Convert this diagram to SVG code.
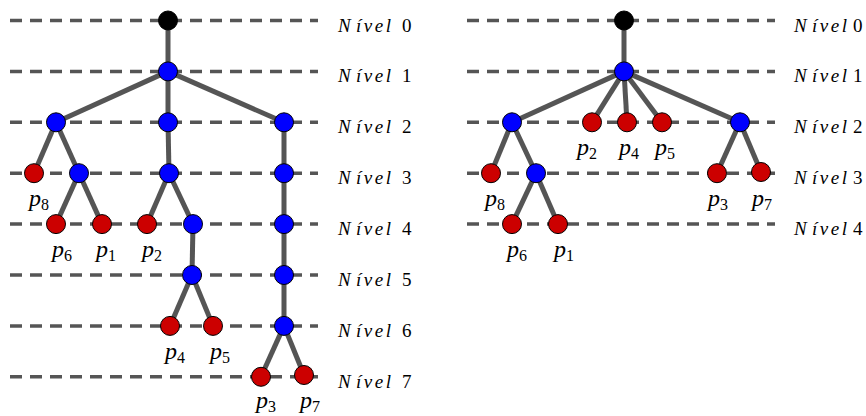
<svg xmlns="http://www.w3.org/2000/svg" width="866" height="416" viewBox="0 0 866 416">
<style>
.guide{stroke:#555;stroke-width:3.5;stroke-dasharray:12 8;fill:none}
.edge{stroke:#555;stroke-width:5;fill:none}
.root{fill:#000;stroke:#000;stroke-width:1}
.inner{fill:#0000ff;stroke:#000;stroke-width:1}
.leaf{fill:#cc0000;stroke:#000;stroke-width:1}
text{font-family:"Liberation Serif",serif}
.lvl{font-size:19px;fill:#000}
.it{font-style:italic}
.pl{font-size:24px;font-style:italic;fill:#000;text-anchor:middle}
.sub{font-size:16px;font-style:normal}
</style>
<rect width="866" height="416" fill="#fff"/>
<g id="guides">
<line class="guide" x1="10" y1="20.5" x2="318" y2="20.5"/>
<line class="guide" x1="10" y1="71.4" x2="318" y2="71.4"/>
<line class="guide" x1="10" y1="122.3" x2="318" y2="122.3"/>
<line class="guide" x1="10" y1="173.2" x2="318" y2="173.2"/>
<line class="guide" x1="10" y1="224.1" x2="318" y2="224.1"/>
<line class="guide" x1="10" y1="275" x2="318" y2="275"/>
<line class="guide" x1="10" y1="325.9" x2="318" y2="325.9"/>
<line class="guide" x1="10" y1="376.8" x2="318" y2="376.8"/>
<line class="guide" x1="467" y1="20.5" x2="775" y2="20.5"/>
<line class="guide" x1="467" y1="71.4" x2="775" y2="71.4"/>
<line class="guide" x1="467" y1="122.3" x2="775" y2="122.3"/>
<line class="guide" x1="467" y1="173.2" x2="775" y2="173.2"/>
<line class="guide" x1="467" y1="224.1" x2="775" y2="224.1"/>
</g>
<g id="level-labels" class="lvl" font-family="Liberation Serif, serif">
<text y="31.5"><tspan class="it" x="338">N</tspan><tspan class="it" x="356" letter-spacing="2.5">ível</tspan><tspan x="402">0</tspan></text>
<text y="82.4"><tspan class="it" x="338">N</tspan><tspan class="it" x="356" letter-spacing="2.5">ível</tspan><tspan x="402">1</tspan></text>
<text y="133.3"><tspan class="it" x="338">N</tspan><tspan class="it" x="356" letter-spacing="2.5">ível</tspan><tspan x="402">2</tspan></text>
<text y="184.2"><tspan class="it" x="338">N</tspan><tspan class="it" x="356" letter-spacing="2.5">ível</tspan><tspan x="402">3</tspan></text>
<text y="235.1"><tspan class="it" x="338">N</tspan><tspan class="it" x="356" letter-spacing="2.5">ível</tspan><tspan x="402">4</tspan></text>
<text y="286"><tspan class="it" x="338">N</tspan><tspan class="it" x="356" letter-spacing="2.5">ível</tspan><tspan x="402">5</tspan></text>
<text y="336.9"><tspan class="it" x="338">N</tspan><tspan class="it" x="356" letter-spacing="2.5">ível</tspan><tspan x="402">6</tspan></text>
<text y="387.8"><tspan class="it" x="338">N</tspan><tspan class="it" x="356" letter-spacing="2.5">ível</tspan><tspan x="402">7</tspan></text>
<text y="31.5"><tspan class="it" x="794">N</tspan><tspan class="it" x="812" letter-spacing="2.5">ível</tspan><tspan x="853">0</tspan></text>
<text y="82.4"><tspan class="it" x="794">N</tspan><tspan class="it" x="812" letter-spacing="2.5">ível</tspan><tspan x="853">1</tspan></text>
<text y="133.3"><tspan class="it" x="794">N</tspan><tspan class="it" x="812" letter-spacing="2.5">ível</tspan><tspan x="853">2</tspan></text>
<text y="184.2"><tspan class="it" x="794">N</tspan><tspan class="it" x="812" letter-spacing="2.5">ível</tspan><tspan x="853">3</tspan></text>
<text y="235.1"><tspan class="it" x="794">N</tspan><tspan class="it" x="812" letter-spacing="2.5">ível</tspan><tspan x="853">4</tspan></text>
</g>
<g id="connectors" class="edge">
<line x1="168" y1="20.5" x2="168" y2="71.4"/>
<line x1="168" y1="71.4" x2="56" y2="122.3"/>
<line x1="168" y1="71.4" x2="168" y2="122.3"/>
<line x1="168" y1="71.4" x2="284" y2="122.3"/>
<line x1="56" y1="122.3" x2="34" y2="173.2"/>
<line x1="56" y1="122.3" x2="79" y2="173.2"/>
<line x1="79" y1="173.2" x2="56" y2="224.1"/>
<line x1="79" y1="173.2" x2="102" y2="224.1"/>
<line x1="168" y1="122.3" x2="169" y2="173.2"/>
<line x1="169" y1="173.2" x2="147" y2="224.1"/>
<line x1="169" y1="173.2" x2="193" y2="224.1"/>
<line x1="193" y1="224.1" x2="192" y2="275"/>
<line x1="192" y1="275" x2="170" y2="325.9"/>
<line x1="192" y1="275" x2="213" y2="325.9"/>
<line x1="284" y1="122.3" x2="284" y2="325.9"/>
<line x1="284" y1="325.9" x2="261" y2="376.8"/>
<line x1="284" y1="325.9" x2="304" y2="375"/>
<line x1="624" y1="20.5" x2="624" y2="71.4"/>
<line x1="624" y1="71.4" x2="512" y2="122.3"/>
<line x1="624" y1="71.4" x2="592" y2="122.3"/>
<line x1="624" y1="71.4" x2="627" y2="122.3"/>
<line x1="624" y1="71.4" x2="662" y2="122.3"/>
<line x1="624" y1="71.4" x2="740" y2="122.3"/>
<line x1="512" y1="122.3" x2="491" y2="173.2"/>
<line x1="512" y1="122.3" x2="536" y2="173.2"/>
<line x1="536" y1="173.2" x2="512" y2="224.1"/>
<line x1="536" y1="173.2" x2="558" y2="224.1"/>
<line x1="740" y1="122.3" x2="717" y2="173.2"/>
<line x1="740" y1="122.3" x2="761" y2="172"/>
</g>
<g id="left-root"><circle class="root" cx="168" cy="20.5" r="9.5"/></g>
<g id="left-n1"><circle class="inner" cx="168" cy="71.4" r="9.5"/></g>
<g id="left-n2a"><circle class="inner" cx="56" cy="122.3" r="9.5"/></g>
<g id="left-n2b"><circle class="inner" cx="168" cy="122.3" r="9.5"/></g>
<g id="left-n2c"><circle class="inner" cx="284" cy="122.3" r="9.5"/></g>
<g id="left-p8"><circle class="leaf" cx="34" cy="173.2" r="9.5"/><text class="pl" font-family="Liberation Serif, serif" x="39" y="206">p<tspan class="sub" dy="4">8</tspan></text></g>
<g id="left-n3a"><circle class="inner" cx="79" cy="173.2" r="9.5"/></g>
<g id="left-n3b"><circle class="inner" cx="169" cy="173.2" r="9.5"/></g>
<g id="left-n3c"><circle class="inner" cx="284" cy="173.2" r="9.5"/></g>
<g id="left-p6"><circle class="leaf" cx="56" cy="224.1" r="9.5"/><text class="pl" x="62" y="257">p<tspan class="sub" dy="4">6</tspan></text></g>
<g id="left-p1"><circle class="leaf" cx="102" cy="224.1" r="9.5"/><text class="pl" x="106" y="257">p<tspan class="sub" dy="4">1</tspan></text></g>
<g id="left-p2"><circle class="leaf" cx="147" cy="224.1" r="9.5"/><text class="pl" x="152" y="257">p<tspan class="sub" dy="4">2</tspan></text></g>
<g id="left-n4a"><circle class="inner" cx="193" cy="224.1" r="9.5"/></g>
<g id="left-n4c"><circle class="inner" cx="284" cy="224.1" r="9.5"/></g>
<g id="left-n5a"><circle class="inner" cx="192" cy="275" r="9.5"/></g>
<g id="left-n5c"><circle class="inner" cx="284" cy="275" r="9.5"/></g>
<g id="left-p4"><circle class="leaf" cx="170" cy="325.9" r="9.5"/><text class="pl" x="175" y="359">p<tspan class="sub" dy="4">4</tspan></text></g>
<g id="left-p5"><circle class="leaf" cx="213" cy="325.9" r="9.5"/><text class="pl" x="220" y="359">p<tspan class="sub" dy="4">5</tspan></text></g>
<g id="left-n6c"><circle class="inner" cx="284" cy="325.9" r="9.5"/></g>
<g id="left-p3"><circle class="leaf" cx="261" cy="376.8" r="9.5"/><text class="pl" x="266" y="408">p<tspan class="sub" dy="4">3</tspan></text></g>
<g id="left-p7"><circle class="leaf" cx="304" cy="375" r="9.5"/><text class="pl" x="310" y="408">p<tspan class="sub" dy="4">7</tspan></text></g>
<g id="right-root"><circle class="root" cx="624" cy="20.5" r="9.5"/></g>
<g id="right-n1"><circle class="inner" cx="624" cy="71.4" r="9.5"/></g>
<g id="right-n2a"><circle class="inner" cx="512" cy="122.3" r="9.5"/></g>
<g id="right-p2"><circle class="leaf" cx="592" cy="122.3" r="9.5"/><text class="pl" x="587" y="155">p<tspan class="sub" dy="4">2</tspan></text></g>
<g id="right-p4"><circle class="leaf" cx="627" cy="122.3" r="9.5"/><text class="pl" x="629" y="155">p<tspan class="sub" dy="4">4</tspan></text></g>
<g id="right-p5"><circle class="leaf" cx="662" cy="122.3" r="9.5"/><text class="pl" x="665" y="155">p<tspan class="sub" dy="4">5</tspan></text></g>
<g id="right-n2b"><circle class="inner" cx="740" cy="122.3" r="9.5"/></g>
<g id="right-p8"><circle class="leaf" cx="491" cy="173.2" r="9.5"/><text class="pl" x="495" y="206">p<tspan class="sub" dy="4">8</tspan></text></g>
<g id="right-n3a"><circle class="inner" cx="536" cy="173.2" r="9.5"/></g>
<g id="right-p3"><circle class="leaf" cx="717" cy="173.2" r="9.5"/><text class="pl" x="718" y="206">p<tspan class="sub" dy="4">3</tspan></text></g>
<g id="right-p7"><circle class="leaf" cx="761" cy="172" r="9.5"/><text class="pl" x="762" y="206">p<tspan class="sub" dy="4">7</tspan></text></g>
<g id="right-p6"><circle class="leaf" cx="512" cy="224.1" r="9.5"/><text class="pl" x="517" y="257">p<tspan class="sub" dy="4">6</tspan></text></g>
<g id="right-p1"><circle class="leaf" cx="558" cy="224.1" r="9.5"/><text class="pl" x="564" y="257">p<tspan class="sub" dy="4">1</tspan></text></g>
</svg>
